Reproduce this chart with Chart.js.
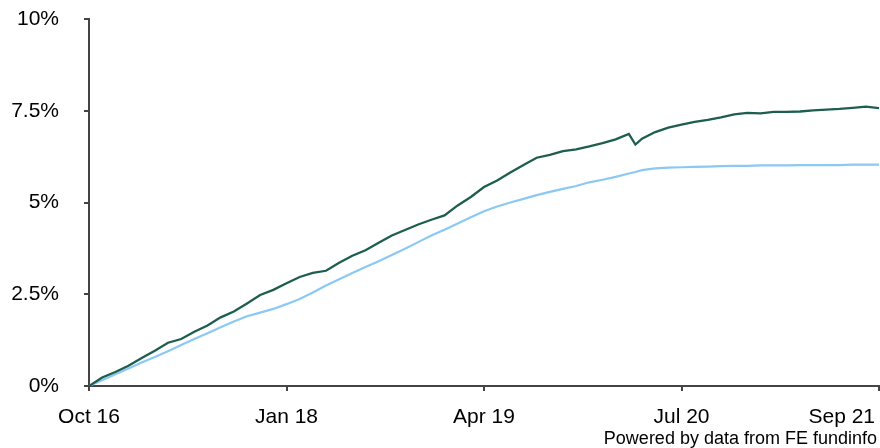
<!DOCTYPE html>
<html lang="en">
<head>
    <meta charset="UTF-8">
    <title>Cumulative performance</title>
    <style>
        body {
            margin: 0;
            background-color: #ffffff;
        }
        #chart-box {
            width: 880px;
            height: 448px;
        }
    </style>
</head>
<body>

    <div id="chart-box">
        <canvas id="perfChart" width="880" height="448"></canvas>
    </div>

    <script src="https://cdn.jsdelivr.net/npm/chart.js"></script>
    <script>
        // months since Oct 2016 (41.5 = the March 2020 dip)
        const months = [0, 1, 2, 3, 4, 5, 6, 7, 8, 9, 10, 11, 12, 13, 14, 15, 16, 17, 18, 19, 20,
            21, 22, 23, 24, 25, 26, 27, 28, 29, 30, 31, 32, 33, 34, 35, 36, 37, 38, 39, 40,
            41, 41.5, 42, 43, 44, 45, 46, 47, 48, 49, 50, 51, 52, 53, 54, 55, 56, 57, 58, 59, 60];

        // dark green series, % growth
        const fundValues = [0, 0.23, 0.38, 0.55, 0.76, 0.96, 1.18, 1.28, 1.48, 1.65, 1.87,
            2.03, 2.25, 2.48, 2.62, 2.80, 2.97, 3.08, 3.14, 3.36, 3.55,
            3.70, 3.90, 4.10, 4.25, 4.40, 4.53, 4.65, 4.92, 5.15, 5.42,
            5.60, 5.82, 6.02, 6.22, 6.30, 6.40, 6.45, 6.53, 6.62, 6.72,
            6.87, 6.58, 6.74, 6.92, 7.04, 7.12, 7.20, 7.25, 7.32, 7.40,
            7.44, 7.43, 7.47, 7.47, 7.48, 7.51, 7.53, 7.55, 7.58, 7.61, 7.57];

        // light blue series, % growth
        const benchValues = [0, 0.16, 0.32, 0.48, 0.64, 0.79, 0.95, 1.12, 1.28, 1.44, 1.60,
            1.76, 1.90, 2.00, 2.10, 2.23, 2.37, 2.55, 2.74, 2.91, 3.08,
            3.24, 3.40, 3.57, 3.74, 3.92, 4.10, 4.26, 4.43, 4.60, 4.76,
            4.89, 5.00, 5.10, 5.20, 5.29, 5.37, 5.45, 5.55, 5.62, 5.70,
            5.79, 5.83, 5.88, 5.93, 5.95, 5.96, 5.97, 5.98, 5.99, 6.00,
            6.00, 6.01, 6.01, 6.01, 6.02, 6.02, 6.02, 6.02, 6.03, 6.03, 6.03];

        const xTickPositions = [0, 15, 30, 45, 60];
        const xTickLabels = ['Oct 16', 'Jan 18', 'Apr 19', 'Jul 20', 'Sep 21'];
        const yTickLabels = ['0%', '2.5%', '5%', '7.5%', '10%'];
        const footerText = 'Powered by data from FE fundinfo';

        const axisColor = '#444444';
        const fontFamily = '"Liberation Sans", Arial, sans-serif';

        function toPoints(values) {
            return values.map((v, i) => ({ x: months[i], y: v }));
        }

        // x labels + footer drawn here so the last label can sit inside the canvas
        const textPlugin = {
            id: 'textPlugin',
            afterDraw(chart) {
                const ctx = chart.ctx;
                const xScale = chart.scales.x;
                ctx.save();
                ctx.fillStyle = '#000000';
                ctx.font = '21px ' + fontFamily;
                ctx.textBaseline = 'alphabetic';
                xTickLabels.forEach((label, i) => {
                    const px = xScale.getPixelForValue(xTickPositions[i]);
                    const w = ctx.measureText(label).width;
                    if (px + w / 2 > chart.width - 4) {
                        ctx.textAlign = 'right';
                        ctx.fillText(label, chart.width - 5, 423);
                    } else {
                        ctx.textAlign = 'center';
                        ctx.fillText(label, px, 423);
                    }
                });
                ctx.font = '18px ' + fontFamily;
                ctx.textAlign = 'right';
                ctx.fillText(footerText, 877, 444);
                ctx.restore();
            }
        };

        const ctx = document.getElementById('perfChart').getContext('2d');
        const perfChart = new Chart(ctx, {
            type: 'line',
            data: {
                datasets: [{
                    label: 'Fund',
                    data: toPoints(fundValues),
                    borderColor: '#1d5e4e',
                    borderWidth: 2.3,
                    pointRadius: 0,
                    tension: 0
                }, {
                    label: 'Benchmark',
                    data: toPoints(benchValues),
                    borderColor: '#8cc8f4',
                    borderWidth: 2.2,
                    pointRadius: 0,
                    tension: 0
                }]
            },
            options: {
                responsive: false,
                animation: false,
                layout: {
                    padding: { top: 19, right: 1, left: 0, bottom: 0 }
                },
                plugins: {
                    legend: { display: false },
                    tooltip: { enabled: false }
                },
                scales: {
                    x: {
                        type: 'linear',
                        min: 0,
                        max: 60,
                        afterBuildTicks(scale) {
                            scale.ticks = xTickPositions.map(v => ({ value: v }));
                        },
                        afterFit(scale) {
                            scale.height = 62;
                            scale.paddingLeft = 0;
                            scale.paddingRight = 0;
                        },
                        ticks: { display: false },
                        grid: {
                            drawOnChartArea: false,
                            tickLength: 5,
                            color: axisColor,
                            lineWidth: 2
                        },
                        border: { color: axisColor, width: 2 }
                    },
                    y: {
                        min: 0,
                        max: 10,
                        afterBuildTicks(scale) {
                            scale.ticks = [0, 2.5, 5, 7.5, 10].map(v => ({ value: v }));
                        },
                        afterFit(scale) {
                            scale.width = 89;
                            scale.paddingTop = 0;
                            scale.paddingBottom = 0;
                        },
                        ticks: {
                            padding: 25,
                            color: '#000000',
                            font: { family: fontFamily, size: 21 },
                            callback: (value, index) => yTickLabels[index]
                        },
                        grid: {
                            drawOnChartArea: false,
                            tickLength: 5,
                            color: axisColor,
                            lineWidth: 2
                        },
                        border: { color: axisColor, width: 2 }
                    }
                }
            },
            plugins: [textPlugin]
        });
    </script>

</body>
</html>
